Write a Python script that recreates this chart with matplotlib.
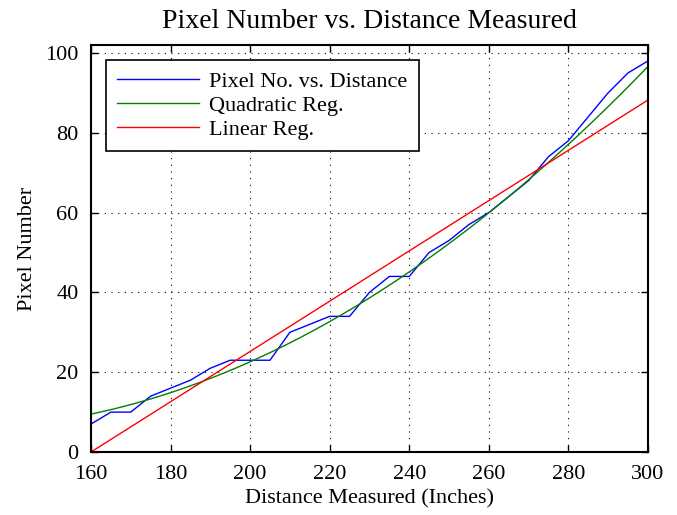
import numpy as np
import matplotlib
matplotlib.use('Agg')
from matplotlib import pyplot as plt

plt.rcParams.update({'font.family': 'Liberation Serif', 'font.size': 16})

distance = np.arange(160, 301, 5)
pixel_no = np.array([7, 10, 10, 14, 16, 18, 21, 23, 23, 23, 30, 32, 34, 34, 40,
                     44, 44, 50, 53, 57, 60, 64, 68, 74, 78, 84, 90, 95, 98])

# regression curves, values read at a few distances
quad_x = [160, 200, 300]
quad_y = [9.5, 22.6, 96.6]
lin_x = [160, 300]
lin_y = [0.0, 88.2]

x_ticks = [160, 180, 200, 220, 240, 260, 280, 300]
y_ticks = [0, 20, 40, 60, 80, 100]

quad = np.polyfit(quad_x, quad_y, 2)
xs = np.linspace(160, 300, 200)

fig = plt.figure(figsize=(6.77, 5.15), dpi=100)
ax = fig.add_axes([0.1344, 0.1223, 0.957 - 0.1344, 0.9126 - 0.1223])

ax.plot(distance, pixel_no, color='#0000ff', lw=1.0, label='Pixel No. vs. Distance')
ax.plot(xs, np.polyval(quad, xs), color='#008000', lw=1.0, label='Quadratic Reg.')
ax.plot(lin_x, lin_y, color='#ff0000', lw=1.0, label='Linear Reg.')

ax.set_xlim(160, 300)
ax.set_ylim(0, 102)
ax.set_xticks(x_ticks)
ax.set_yticks(y_ticks)
ax.grid(True, color='black', linestyle=(0, (1, 5)), linewidth=0.8)
ax.tick_params(direction='in', top=True, right=True, length=5, width=1, labelsize=16, pad=9)
for s in ax.spines.values():
    s.set_linewidth(1.5)

ax.set_title('Pixel Number vs. Distance Measured', fontsize=20, pad=12)
ax.set_xlabel('Distance Measured (Inches)', fontsize=16, labelpad=4)
ax.set_ylabel('Pixel Number', fontsize=16, labelpad=6)

leg = ax.legend(loc='upper left', bbox_to_anchor=(0.027, 0.963), borderaxespad=0,
                fancybox=False, edgecolor='black', framealpha=1, fontsize=16,
                handlelength=3.7, labelspacing=0.15, borderpad=0.5, handletextpad=0.45)
leg.get_frame().set_linewidth(1.2)

plt.savefig('out.png', dpi=100)
